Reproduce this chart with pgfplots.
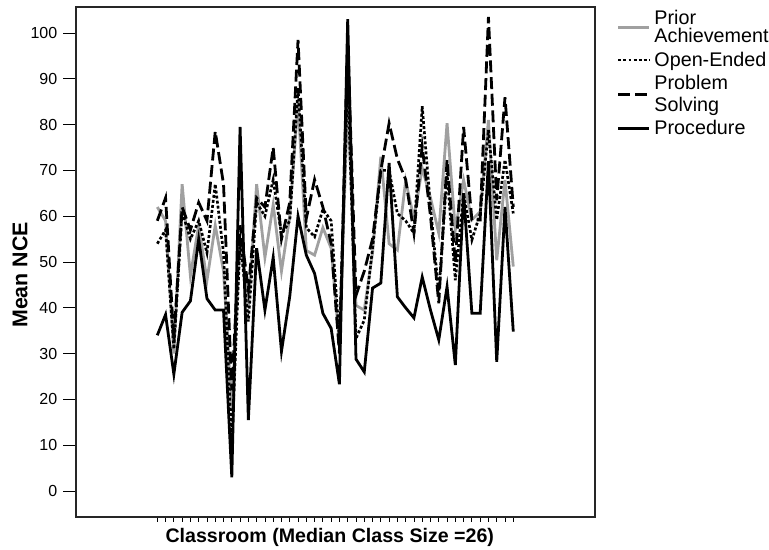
\documentclass[border=0pt]{standalone}
\usepackage{fontspec}
\setmainfont{Liberation Sans}
\usepackage{pgfplots}
\usepackage{pgfplotstable}
\pgfplotsset{compat=1.18}

% classroom, prior achievement, open-ended, problem solving, procedure
\pgfplotstableread{
x  prior open prob proc
1  62   54   59   34
2  59   57   64   38.5
3  30   31   33   25.5
4  67   61   62   39
5  47   55   57   41.5
6  58   59   63   55
7  46   52   59   42
8  58   67   78.5 39.5
9  48   52   67   39.5
10 18   10   22   3
11 55   55   58   79.5
12 40   37   44   15.5
13 67   63   64   53
14 51   60   62   39.5
15 62.5 68   75   51
16 48   56   55   30.5
17 60   59   63   42.5
18 85   88   98.5 60
19 52.5 57.5 59.5 51.5
20 51.5 55.5 68   47.5
21 57.5 61.5 62   38.8
22 53   59   54   35.5
23 32   33   30   23.3
24 85   90   98   103
25 40.5 33.3 42.7 28.8
26 39.5 37.3 48   26
27 52   53   55   44.3
28 73   70   70   45.4
29 54   70   80.3 71.6
30 52.6 60.6 72.5 42.4
31 67.7 59   68   40
32 59.5 56.3 56.3 37.8
33 70.5 84   75.2 46.7
34 64   62   60   39.5
35 56.3 43   41   33
36 80.3 69.4 72.3 44.6
37 57   46   49.8 27.5
38 67.9 65   79.5 65
39 59.2 54.8 59.2 38.8
40 61   60.6 59.2 38.8
41 81   78.8 103.5 72
42 50.4 59.2 63.5 28.2
43 67.9 72.3 86   62
44 49   60.6 62   34.8
}\nce

\definecolor{priorgray}{HTML}{A0A0A0}

\begin{document}
\begin{tikzpicture}
\useasboundingbox (-57pt,-24.75pt) rectangle (519.75pt,387.75pt);

% short x ticks, drawn by a second axis with the same frame
\begin{axis}[
    at={(0,0)}, anchor=south west,
    scale only axis, width=389.25pt, height=382.5pt,
    xmin=-8.82, xmax=53.87, ymin=-5.68, ymax=105.68,
    xtick={1,...,44}, xticklabels={},
    ytick=\empty,
    tick align=outside, major tick length=3.75pt,
    xtick pos=bottom,
    tick style={black, line width=0.6pt},
    axis line style={draw=none},
]
\end{axis}

\begin{axis}[
    at={(0,0)}, anchor=south west,
    scale only axis, width=389.25pt, height=382.5pt,
    xmin=-8.82, xmax=53.87, ymin=-5.68, ymax=105.68,
    xtick=\empty,
    ytick={0,10,...,100},
    ytick pos=left,
    tick align=outside, major tick length=9.5pt,
    tick style={black, line width=0.6pt},
    axis line style={black!85, line width=1pt},
    /pgf/number format/assume math mode=true,
    yticklabel style={font=\fontsize{12}{12}\selectfont, xshift=-1pt},
    xlabel={\textbf{Classroom (Median Class Size =26)}},
    ylabel={\textbf{Mean NCE}},
    xlabel style={at={(axis description cs:0.489,-0.040)}, anchor=center,
        font=\fontsize{14.7}{16}\selectfont},
    ylabel style={at={(axis description cs:-0.108,0.4745)}, anchor=center,
        font=\fontsize{16}{16}\selectfont},
    legend style={at={(axis description cs:1.0424,0.998)}, anchor=north west,
        draw=none, fill=none, inner sep=0pt, outer sep=0pt,
        row sep=1.2pt, column sep=1pt,
        font=\fontsize{14.8}{12.5}\selectfont,
        cells={anchor=west, align=left}},
    legend image code/.code={\draw[#1] (0pt,0pt) -- (23pt,0pt);},
]
\addplot[priorgray, line width=2.1pt] table[x=x, y=prior] {\nce};
\addlegendentry{Prior\\[1pt]Achievement}
\addplot[black, line width=2pt, dash pattern=on 2.2pt off 1.6pt] table[x=x, y=open] {\nce};
\addlegendentry{Open-Ended}
\addplot[black, line width=2.1pt, dash pattern=on 9pt off 3.5pt] table[x=x, y=prob] {\nce};
\addlegendentry{Problem\\[4pt]Solving}
\addplot[black, line width=2.1pt] table[x=x, y=proc] {\nce};
\addlegendentry{Procedure}
\end{axis}
\end{tikzpicture}
\end{document}
